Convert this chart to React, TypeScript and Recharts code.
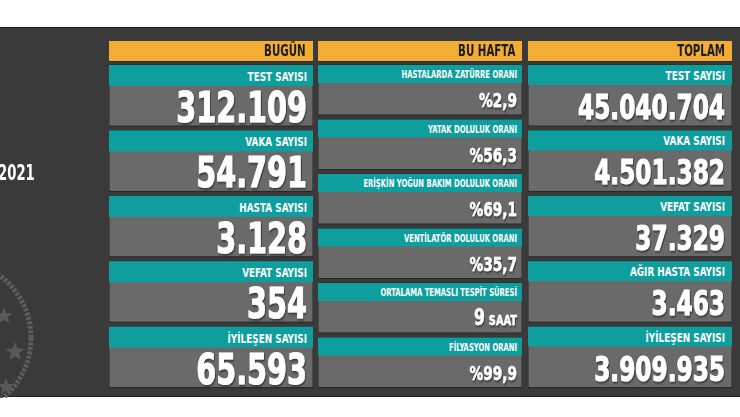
import React from 'react';
import { BarChart, Bar, XAxis, YAxis } from 'recharts';

// column headers
const headers = ['BUGÜN', 'BU HAFTA', 'TOPLAM'];

// BUGÜN (today)
const bugunLabels = ['TEST SAYISI', 'VAKA SAYISI', 'HASTA SAYISI', 'VEFAT SAYISI', 'İYİLEŞEN SAYISI'];
const bugunValues = [312109, 54791, 3128, 354, 65593];

// BU HAFTA (this week)
const haftaLabels = [
  'HASTALARDA ZATÜRRE ORANI',
  'YATAK DOLULUK ORANI',
  'ERİŞKİN YOĞUN BAKIM DOLULUK ORANI',
  'VENTİLATÖR DOLULUK ORANI',
  'ORTALAMA TEMASLI TESPİT SÜRESİ',
  'FİLYASYON ORANI',
];
const haftaValues = [2.9, 56.3, 69.1, 35.7, 9, 99.9];
const haftaUnits = ['%', '%', '%', '%', 'SAAT', '%'];

// TOPLAM (total)
const toplamLabels = ['TEST SAYISI', 'VAKA SAYISI', 'VEFAT SAYISI', 'AĞIR HASTA SAYISI', 'İYİLEŞEN SAYISI'];
const toplamValues = [45040704, 4501382, 37329, 3463, 3909935];

const FONT = "'DejaVu Sans Condensed', 'DejaVu Sans', sans-serif";
const SQUEEZE = 0.76;
const ORANGE = '#f4ad34';
const TEAL = '#0f9e9e';
const GREY = '#6a6a6a';
const DARK = '#3a3a3a';

const fmtInt = (n: number) => String(n).replace(/\B(?=(\d{3})+(?!\d))/g, '.');
const fmtPct = (n: number) => '%' + n.toFixed(1).replace('.', ',');

interface Row {
  label: string;
  value: number;
  unit?: string;
}

interface CellStyle {
  tealH: number;
  labelSize: number;
  valueSize: number;
  pad: number;
  valueBottom: number;
}

function makeShape(s: CellStyle) {
  return (props: any) => {
    const { x, y, width, height, payload } = props;
    const r: Row = payload;
    const right = x + width - s.pad;
    let valueNode: React.ReactNode;
    if (r.unit === 'SAAT') {
      valueNode = (
        <>
          <tspan fontSize={s.valueSize * 1.15}>{r.value}</tspan>
          <tspan fontSize={s.valueSize * 0.72} dx={5}>SAAT</tspan>
        </>
      );
    } else if (r.unit === '%') {
      valueNode = fmtPct(r.value);
    } else {
      valueNode = fmtInt(r.value);
    }
    return (
      <g>
        <rect x={x} y={y} width={width} height={height} fill={GREY} stroke="#262626" strokeWidth={1} />
        <rect x={x} y={y} width={width} height={s.tealH} fill={TEAL} />
        <text
          transform={`translate(${right},${y + s.tealH - 5}) scale(${SQUEEZE},1)`}
          textAnchor="end"
          fill="#ffffff"
          fontFamily={FONT}
          fontWeight="bold"
          fontSize={s.labelSize}
        >
          {r.label}
        </text>
        <text
          transform={`translate(${right},${y + height - s.valueBottom}) scale(${SQUEEZE},1)`}
          textAnchor="end"
          fill="#ffffff"
          stroke="#ffffff"
          strokeWidth={s.valueSize > 25 ? 1 : 0.5}
          fontFamily={FONT}
          fontWeight="bold"
          fontSize={s.valueSize}
          filter="url(#valShadow)"
        >
          {valueNode}
        </text>
      </g>
    );
  };
}

function Column({
  left,
  header,
  rows,
  barSize,
  cell,
}: {
  left: number;
  header: string;
  rows: Row[];
  barSize: number;
  cell: CellStyle;
}) {
  return (
    <>
      <div
        style={{
          position: 'absolute',
          left,
          top: 41,
          width: 204,
          height: 21,
          background: ORANGE,
          borderBottom: '1px solid #2a2a2a',
          boxSizing: 'border-box',
          textAlign: 'right',
          paddingRight: 7,
          fontFamily: FONT,
          fontWeight: 'bold',
          fontSize: 15,
          lineHeight: '21px',
          color: '#1b1b1b',
        }}
      >
        <span style={{ display: 'inline-block', transform: `scaleX(${SQUEEZE})`, transformOrigin: 'right center' }}>{header}</span>
      </div>
      <div style={{ position: 'absolute', left, top: 63 }}>
        <BarChart width={204} height={327} layout="vertical" data={rows} margin={{ top: 0, right: 0, bottom: 0, left: 0 }}>
          <XAxis type="number" domain={[0, 1]} hide />
          <YAxis type="category" dataKey="label" hide />
          <Bar dataKey={() => 1} barSize={barSize} isAnimationActive={false} shape={makeShape(cell)} />
        </BarChart>
      </div>
    </>
  );
}

function star(cx: number, cy: number, r: number) {
  const pts: string[] = [];
  for (let i = 0; i < 10; i++) {
    const a = -Math.PI / 2 + (i * Math.PI) / 5;
    const rr = i % 2 === 0 ? r : r * 0.42;
    pts.push(`${cx + rr * Math.cos(a)},${cy + rr * Math.sin(a)}`);
  }
  return pts.join(' ');
}

export default function App() {
  const bugunRows: Row[] = bugunLabels.map((label, i) => ({ label, value: bugunValues[i] }));
  const haftaRows: Row[] = haftaLabels.map((label, i) => ({ label, value: haftaValues[i], unit: haftaUnits[i] }));
  const toplamRows: Row[] = toplamLabels.map((label, i) => ({ label, value: toplamValues[i] }));

  const big: CellStyle = { tealH: 21, labelSize: 13, valueSize: 42, pad: 6, valueBottom: 4 };
  const total: CellStyle = { tealH: 20, labelSize: 13, valueSize: 34, pad: 7, valueBottom: 7 };
  const week: CellStyle = { tealH: 18, labelSize: 10, valueSize: 20, pad: 5, valueBottom: 8 };

  return (
    <div style={{ position: 'absolute', left: 0, top: 0, width: 740, height: 417, background: '#ffffff', overflow: 'hidden' }}>
      <svg width={0} height={0} style={{ position: 'absolute' }}>
        <defs>
          <filter id="valShadow" x="-10%" y="-20%" width="130%" height="150%">
            <feDropShadow dx={1} dy={1.5} stdDeviation={1} floodColor="#000000" floodOpacity={0.55} />
          </filter>
        </defs>
      </svg>
      <div
        style={{
          position: 'absolute',
          left: 0,
          top: 27,
          width: 740,
          height: 370,
          background: DARK,
          borderTop: '1px solid #1a1a1a',
          borderBottom: '1px solid #1f1f1f',
          boxSizing: 'border-box',
        }}
      />
      <svg width={110} height={170} style={{ position: 'absolute', left: 0, top: 228 }}>
        <circle cx={-47} cy={110} r={78} fill="none" stroke="#5d5d5d" strokeWidth={5} strokeDasharray="3 1.5" />
        <polygon points={star(4, 88, 9)} fill="#595959" />
        <polygon points={star(15, 124, 10)} fill="#595959" />
        <polygon points={star(6, 159, 9)} fill="#595959" />
      </svg>
      <div
        style={{
          position: 'absolute',
          left: 0,
          top: 161,
          fontFamily: FONT,
          fontWeight: 'bold',
          fontSize: 21,
          lineHeight: '24px',
          color: '#ffffff',
        }}
      >
        <span style={{ display: 'inline-block', transform: 'scaleX(0.7)', transformOrigin: 'left center', marginLeft: -2 }}>2021</span>
      </div>
      <Column left={109} header={headers[0]} rows={bugunRows} barSize={61} cell={big} />
      <Column left={318} header={headers[1]} rows={haftaRows} barSize={50} cell={week} />
      <Column left={528} header={headers[2]} rows={toplamRows} barSize={61} cell={total} />
    </div>
  );
}
